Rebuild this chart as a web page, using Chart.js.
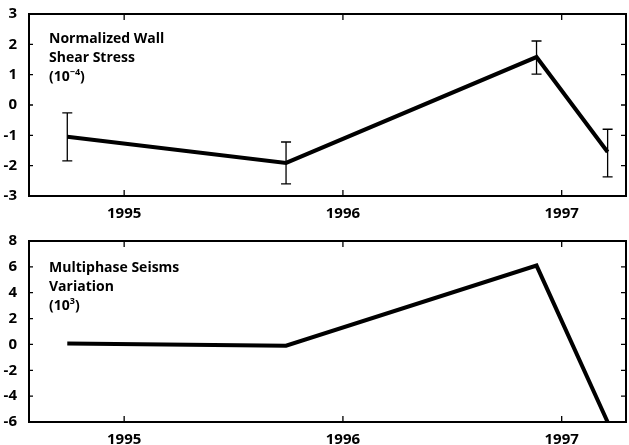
<!DOCTYPE html>
<html lang="en">
  <head>
    <meta charset="UTF-8" />
    <title>Wall Shear Stress and Multiphase Seisms</title>
    <script src="https://cdn.jsdelivr.net/npm/chart.js"></script>
    <style>
      html,
      body {
        margin: 0;
        background: #fff;
      }
      .panel {
        position: absolute;
        left: 0;
        width: 629px;
      }
      #stressPanel {
        top: 0;
        height: 222px;
      }
      #seismPanel {
        top: 222px;
        height: 223px;
      }
    </style>
  </head>
  <body>
    <div id="stressPanel" class="panel"><canvas id="stressChart"></canvas></div>
    <div id="seismPanel" class="panel"><canvas id="seismChart"></canvas></div>

    <script>
      // sample dates (decimal years)
      const dates = [1994.74, 1995.74, 1996.885, 1997.21];
      const yearTicks = [1995, 1996, 1997];

      // normalized wall shear stress (10^-4) with error bar ends
      const stress = [-1.05, -1.91, 1.58, -1.55];
      const stressLow = [-1.84, -2.6, 1.02, -2.37];
      const stressHigh = [-0.26, -1.22, 2.11, -0.8];

      // multiphase seisms variation (10^3)
      const seisms = [0.08, -0.1, 6.1, -6.0];

      const FONT = "'Open Sans', 'DejaVu Sans', sans-serif";

      // frame, inward ticks, error bars and the in-plot caption
      const panelPlugin = {
        id: "panelPlugin",
        afterDatasetsDraw(chart, args, opts) {
          const ctx = chart.ctx;
          const a = chart.chartArea;
          const x = chart.scales.x;
          const y = chart.scales.y;
          ctx.save();

          // error bars
          if (opts.low) {
            ctx.strokeStyle = "#000";
            ctx.lineWidth = 1.3;
            opts.dates.forEach((d, i) => {
              const px = x.getPixelForValue(d);
              const lo = y.getPixelForValue(opts.low[i]);
              const hi = y.getPixelForValue(opts.high[i]);
              ctx.beginPath();
              ctx.moveTo(px, lo);
              ctx.lineTo(px, hi);
              ctx.moveTo(px - 5, lo);
              ctx.lineTo(px + 5, lo);
              ctx.moveTo(px - 5, hi);
              ctx.lineTo(px + 5, hi);
              ctx.stroke();
            });
          }

          // frame
          ctx.strokeStyle = "#000";
          ctx.lineWidth = 2;
          ctx.strokeRect(a.left, a.top, a.right - a.left, a.bottom - a.top);

          // inward ticks
          ctx.lineWidth = 1.3;
          ctx.beginPath();
          x.ticks.forEach((t) => {
            const px = x.getPixelForValue(t.value);
            ctx.moveTo(px, a.bottom);
            ctx.lineTo(px, a.bottom - 6);
            ctx.moveTo(px, a.top);
            ctx.lineTo(px, a.top + 6);
          });
          y.ticks.forEach((t) => {
            const py = y.getPixelForValue(t.value);
            ctx.moveTo(a.left, py);
            ctx.lineTo(a.left + 4, py);
            ctx.moveTo(a.right, py);
            ctx.lineTo(a.right - 5, py);
          });
          ctx.stroke();

          // caption
          ctx.fillStyle = "#000";
          ctx.textBaseline = "alphabetic";
          ctx.textAlign = "left";
          ctx.font = "bold 14px " + FONT;
          const cx = a.left + 20;
          let cy = a.top + opts.captionTop;
          opts.caption.forEach((line) => {
            ctx.fillText(line, cx, cy);
            cy += 19;
          });
          ctx.fillText("(10", cx, cy);
          let w = ctx.measureText("(10").width;
          ctx.font = "bold 9px " + FONT;
          ctx.fillText(opts.power, cx + w, cy - 6);
          w += ctx.measureText(opts.power).width;
          ctx.font = "bold 14px " + FONT;
          ctx.fillText(")", cx + w, cy);

          ctx.restore();
        },
      };

      function makeChart(id, values, yMin, yMax, yStep, pad, xHeight, pluginOpts) {
        return new Chart(document.getElementById(id), {
          type: "line",
          data: {
            datasets: [
              {
                data: dates.map((d, i) => ({ x: d, y: values[i] })),
                borderColor: "#000",
                borderWidth: 4,
                pointRadius: 0,
                tension: 0,
              },
            ],
          },
          options: {
            responsive: true,
            maintainAspectRatio: false,
            animation: false,
            layout: { padding: pad },
            plugins: {
              legend: { display: false },
              tooltip: { enabled: false },
              panelPlugin: pluginOpts,
            },
            scales: {
              x: {
                type: "linear",
                min: 1994.565,
                max: 1997.294,
                grid: { display: false },
                border: { display: false },
                afterBuildTicks: (s) => {
                  s.ticks = yearTicks.map((v) => ({ value: v }));
                },
                afterFit: (s) => {
                  s.height = xHeight;
                },
                ticks: {
                  color: "#000",
                  padding: 1,
                  maxRotation: 0,
                  font: { family: FONT, size: 15, weight: "bold" },
                  callback: (v) => String(v),
                },
              },
              y: {
                min: yMin,
                max: yMax,
                grid: { display: false },
                border: { display: false },
                afterFit: (s) => {
                  s.width = 29;
                },
                ticks: {
                  stepSize: yStep,
                  color: "#000",
                  padding: 4,
                  font: { family: FONT, size: 15, weight: "bold" },
                },
              },
            },
          },
          plugins: [panelPlugin],
        });
      }

      makeChart(
        "stressChart",
        stress,
        -3,
        3,
        1,
        { top: 14, right: 3, left: 0, bottom: 0 },
        26,
        {
          dates,
          low: stressLow,
          high: stressHigh,
          caption: ["Normalized Wall", "Shear Stress"],
          power: "\u22124",
          captionTop: 29,
        }
      );

      makeChart(
        "seismChart",
        seisms,
        -6,
        8,
        2,
        { top: 19, right: 3, left: 0, bottom: 0 },
        23,
        {
          dates,
          caption: ["Multiphase Seisms", "Variation"],
          power: "3",
          captionTop: 31,
        }
      );
    </script>
  </body>
</html>
